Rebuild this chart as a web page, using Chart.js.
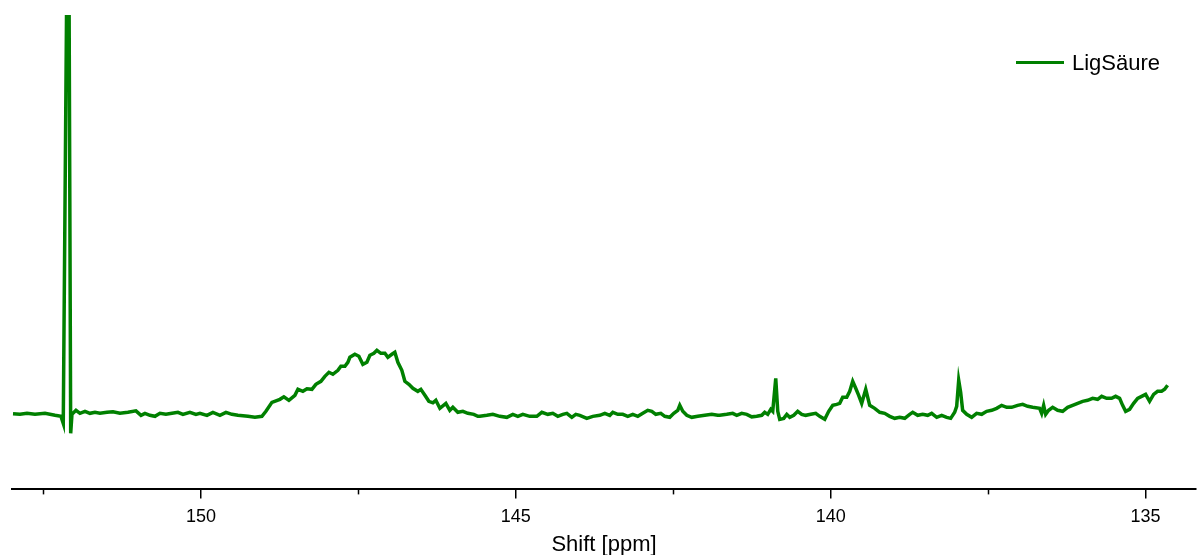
<!DOCTYPE html>
<html>
<head>
<meta charset="utf-8">
<script src="https://cdn.jsdelivr.net/npm/chart.js@4.4.1/dist/chart.umd.min.js"></script>
<style>
  html, body { margin: 0; padding: 0; background: #fff; }
  #wrap { position: relative; width: 1197px; height: 555px; overflow: hidden; }
  #legend { position: absolute; left: 1016px; top: 50px; font-family: "Liberation Sans", Arial, sans-serif; font-size: 22px; line-height: 25px; color: #000; }
  #legend .item { display: flex; align-items: center; white-space: nowrap; }
  #legend .swatch { display: inline-block; width: 48px; height: 3px; margin-right: 8px; }
</style>
</head>
<body>
<div id="wrap">
  <canvas id="c" width="1197" height="555"></canvas>
  <div id="legend"></div>
</div>
<script>
// ---- data (chemical shift in ppm, intensity in arbitrary units) ----
const SERIES_LABEL = 'LigSäure';
const SHIFT_PPM = [
  152.984, 152.873, 152.762, 152.635, 152.476, 152.317, 152.222, 152.186, 152.106, 152.068,
  152.048, 151.984, 151.921, 151.841, 151.762, 151.683, 151.603, 151.492, 151.397, 151.286,
  151.159, 151.032, 150.952, 150.889, 150.810, 150.730, 150.651, 150.556, 150.460, 150.365,
  150.286, 150.175, 150.079, 150.016, 149.905, 149.810, 149.698, 149.603, 149.508, 149.413,
  149.254, 149.143, 149.032, 148.968, 148.873, 148.746, 148.683, 148.603, 148.508, 148.460,
  148.381, 148.317, 148.238, 148.175, 148.095, 148.032, 147.968, 147.905, 147.825, 147.778,
  147.714, 147.667, 147.635, 147.556, 147.492, 147.429, 147.365, 147.317, 147.254, 147.206,
  147.143, 147.079, 147.032, 146.968, 146.921, 146.873, 146.810, 146.762, 146.698, 146.635,
  146.556, 146.508, 146.444, 146.381, 146.317, 146.270, 146.206, 146.111, 146.048, 146.000,
  145.921, 145.841, 145.762, 145.667, 145.603, 145.571, 145.460, 145.365, 145.254, 145.143,
  145.048, 144.968, 144.889, 144.778, 144.667, 144.587, 144.492, 144.413, 144.333, 144.254,
  144.190, 144.111, 144.048, 143.984, 143.873, 143.778, 143.667, 143.587, 143.508, 143.460,
  143.381, 143.302, 143.222, 143.143, 143.063, 142.984, 142.905, 142.841, 142.778, 142.698,
  142.635, 142.556, 142.492, 142.429, 142.397, 142.349, 142.286, 142.206, 142.111, 142.000,
  141.889, 141.794, 141.762, 141.651, 141.556, 141.492, 141.413, 141.333, 141.254, 141.175,
  141.095, 141.048, 141.000, 140.952, 140.921, 140.873, 140.841, 140.810, 140.746, 140.698,
  140.651, 140.587, 140.524, 140.460, 140.397, 140.317, 140.238, 140.175, 140.095, 140.032,
  139.968, 139.905, 139.857, 139.810, 139.746, 139.698, 139.651, 139.603, 139.556, 139.508,
  139.444, 139.381, 139.302, 139.222, 139.143, 139.063, 138.984, 138.905, 138.825, 138.746,
  138.698, 138.619, 138.540, 138.460, 138.397, 138.317, 138.238, 138.159, 138.095, 138.032,
  138.000, 137.968, 137.937, 137.905, 137.841, 137.762, 137.683, 137.603, 137.524, 137.444,
  137.365, 137.286, 137.206, 137.127, 137.032, 136.952, 136.873, 136.794, 136.683, 136.651,
  136.619, 136.587, 136.540, 136.476, 136.397, 136.317, 136.238, 136.159, 136.079, 136.000,
  135.921, 135.841, 135.762, 135.698, 135.619, 135.540, 135.476, 135.413, 135.365, 135.317,
  135.254, 135.190, 135.127, 135.063, 135.000, 134.937, 134.873, 134.810, 134.746, 134.698,
  134.651
];
const INTENSITY = [
  -0.5, -1, 0, -1, 0, -2, -3, -10, 622, -20,
  -1, 3, 0, 2, 0, 1, 0, 1, 1.5, 0,
  1, 2.5, -2, 0, -2, -3, 0, -1, 0, 1,
  -1, 1, -1, 0, -2, 1, -2, 1, -1, -2,
  -3, -4, -3, 2, 11, 14, 16.5, 13, 18, 24,
  22, 24.5, 24, 29, 32, 37, 41, 39, 43, 47,
  47, 51, 56, 59, 57, 49, 51, 58, 60, 63,
  60, 60, 56, 59, 61, 51, 43, 32, 29, 25,
  22, 24, 18, 12, 10.5, 13, 5, 10, 3, 6,
  1, 2, 0, -1, -3, -3, -2, -1, -3, -4,
  -1, -3, -1, -3, -3, 1, -1, 0, -3, -1,
  0, -4, -1, -2, -5, -3, -2, 0, -2, 1,
  -1, -1, -3, -1, -3, 0, 3, 2, -1, 0,
  -3, -4, 0, 3, 8, 2, -2, -4, -3, -2,
  -1, -2, -2, -1, 0, -2, 0, -1, -3.5, -3,
  -2, 1, -1, 4, 2, 35, 2, -6, -5, -1,
  -4, -2, 2, -1, -2, -1, 0, -3, -6, 2,
  8, 9, 10, 16, 16, 22, 32, 25, 18, 10,
  24, 8, 5, 1, 0, -3, -5, -4, -5, -1,
  1, -2, -1, -2, 0, -4, -2, -4, -5, 1,
  7, 33, 21, 3, -1, -4, 0, -1, 2, 3,
  5, 8, 6, 6, 8, 9, 7, 6, 5, 0,
  8, -1, 3, 6, 3, 2, 6, 8, 10, 12,
  13, 15, 14, 17, 15, 15, 17, 15, 8, 2,
  4, 10, 15, 17, 19, 12, 19, 22, 22, 24,
  28
];
const X_MIN = 134.2;
const X_MAX = 153;
const Y_MIN = -76;
const Y_MAX = 398;
const MAJOR_STEP = 5;
const MINOR_TICKS = [152.5, 147.5, 142.5, 137.5];

const FONT = '"Liberation Sans", Arial, sans-serif';
const GREEN = '#008000';

const points = SHIFT_PPM.map((x, i) => ({ x: x, y: INTENSITY[i] }));

const minorTicks = {
  id: 'minorTicks',
  afterDraw(chart) {
    const s = chart.scales.x;
    const ctx = chart.ctx;
    ctx.save();
    ctx.strokeStyle = '#000';
    ctx.lineWidth = 1.5;
    MINOR_TICKS.forEach(v => {
      const px = Math.round(s.getPixelForValue(v)) + 0.5;
      ctx.beginPath();
      ctx.moveTo(px, s.top);
      ctx.lineTo(px, s.top + 5);
      ctx.stroke();
    });
    ctx.restore();
  }
};

const htmlLegend = {
  id: 'htmlLegend',
  afterUpdate(chart) {
    const box = document.getElementById('legend');
    box.innerHTML = '';
    const items = chart.options.plugins.legend.labels.generateLabels(chart);
    items.forEach(it => {
      const row = document.createElement('div');
      row.className = 'item';
      const sw = document.createElement('span');
      sw.className = 'swatch';
      sw.style.background = it.strokeStyle;
      const tx = document.createElement('span');
      tx.textContent = it.text;
      row.appendChild(sw);
      row.appendChild(tx);
      box.appendChild(row);
    });
  }
};

new Chart(document.getElementById('c'), {
  type: 'line',
  data: {
    datasets: [{
      label: SERIES_LABEL,
      data: points,
      borderColor: GREEN,
      backgroundColor: GREEN,
      borderWidth: 3.5,
      pointRadius: 0,
      tension: 0,
      fill: false
    }]
  },
  options: {
    responsive: false,
    animation: false,
    events: [],
    layout: { padding: { left: 12, right: 1, top: 15, bottom: -1 } },
    plugins: {
      legend: { display: false },
      tooltip: { enabled: false }
    },
    scales: {
      x: {
        type: 'linear',
        reverse: true,
        min: X_MIN,
        max: X_MAX,
        offset: false,
        border: { display: true, color: '#000', width: 2 },
        grid: { display: true, drawOnChartArea: false, drawTicks: true, tickLength: 9, color: '#000', lineWidth: 1.5 },
        ticks: { stepSize: MAJOR_STEP, includeBounds: false, color: '#000', font: { family: FONT, size: 18 }, padding: 8, maxRotation: 0 },
        title: { display: true, text: 'Shift [ppm]', color: '#000', font: { family: FONT, size: 22, lineHeight: 1 }, padding: { top: -2, bottom: 0 } }
      },
      y: {
        display: false,
        min: Y_MIN,
        max: Y_MAX
      }
    }
  },
  plugins: [minorTicks, htmlLegend]
});
</script>
</body>
</html>
